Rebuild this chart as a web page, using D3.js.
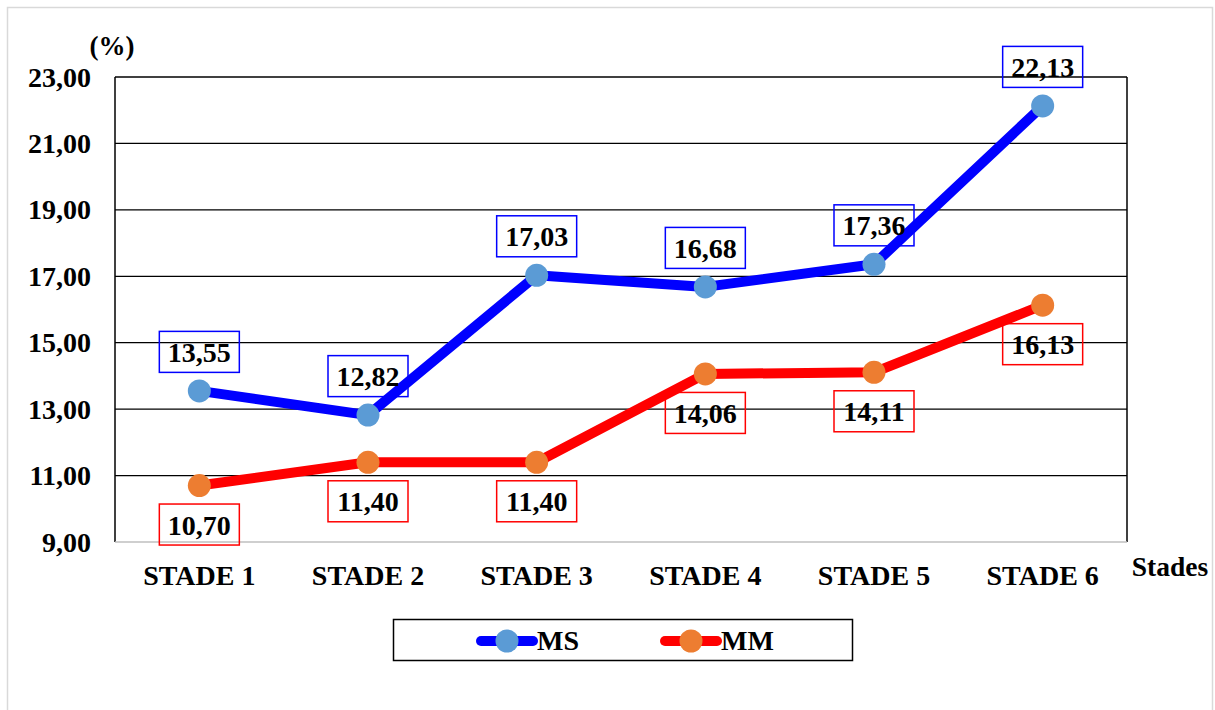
<!DOCTYPE html>
<html>
<head>
<meta charset="utf-8">
<script src="https://cdn.jsdelivr.net/npm/d3@7"></script>
<style>
  html, body { margin: 0; padding: 0; background: #fff; }
  svg { display: block; }
</style>
</head>
<body>
<svg id="chart" width="1215" height="710"></svg>
<script>
const categories = ["STADE 1", "STADE 2", "STADE 3", "STADE 4", "STADE 5", "STADE 6"];
const msValues = [13.55, 12.82, 17.03, 16.68, 17.36, 22.13];
const mmValues = [10.70, 11.40, 11.40, 14.06, 14.11, 16.13];
const yTicks = [9, 11, 13, 15, 17, 19, 21, 23];
const seriesNames = ["MS", "MM"];

const series = [
  { name: seriesNames[0], values: msValues, line: "#0000ff", marker: "#5b9bd5", box: "#0000ff", above: true },
  { name: seriesNames[1], values: mmValues, line: "#ff0000", marker: "#ed7d31", box: "#ff0000", above: false }
];

const svg = d3.select("#chart")
  .attr("font-family", "'Liberation Serif', 'Times New Roman', Times, 'DejaVu Serif', serif")
  .attr("font-weight", "bold");
const L = 115, R = 1127, T = 77, B = 542;
const fmt = v => v.toFixed(2).replace(".", ",");

// outer frame
svg.append("rect").attr("x", 7.5).attr("y", 7.5).attr("width", 1205).attr("height", 730)
  .attr("fill", "none").attr("stroke", "#d9d9d9").attr("stroke-width", 1.5);

const x = d3.scaleBand().domain(categories).range([L, R]).padding(0);
const y = d3.scaleLinear().domain([9, 23]).range([B, T]);
const cx = c => x(c) + x.bandwidth() / 2;

// gridlines
svg.append("g").selectAll("line").data(yTicks.filter(t => t > 9)).join("line")
  .attr("x1", L).attr("x2", R).attr("y1", d => y(d)).attr("y2", d => y(d))
  .attr("stroke", "#000").attr("stroke-width", 1.3);

// plot borders
svg.append("line").attr("x1", L).attr("x2", L).attr("y1", T).attr("y2", B).attr("stroke", "#000").attr("stroke-width", 1.5);
svg.append("line").attr("x1", R).attr("x2", R).attr("y1", T).attr("y2", B).attr("stroke", "#000").attr("stroke-width", 1.5);
svg.append("line").attr("x1", L).attr("x2", R).attr("y1", B).attr("y2", B).attr("stroke", "#bfbfbf").attr("stroke-width", 1.5);

// y tick labels
svg.append("g").selectAll("text").data(yTicks).join("text")
  .attr("x", 91).attr("y", d => y(d) + 9.5).attr("text-anchor", "end")
  .attr("font-size", 28).text(d => fmt(d));

// x labels
svg.append("g").selectAll("text").data(categories).join("text")
  .attr("x", d => cx(d)).attr("y", 585).attr("text-anchor", "middle")
  .attr("font-size", 28).text(d => d);

svg.append("text").attr("x", 112).attr("y", 55).attr("text-anchor", "middle").attr("font-size", 27).text("(%)");
svg.append("text").attr("x", 1170).attr("y", 576).attr("text-anchor", "middle").attr("font-size", 27.5).text("Stades");

const line = d3.line().x((d, i) => cx(categories[i])).y(d => y(d));

series.forEach(s => {
  svg.append("path").datum(s.values).attr("d", line)
    .attr("fill", "none").attr("stroke", s.line).attr("stroke-width", 10)
    .attr("stroke-linejoin", "round").attr("stroke-linecap", "round");
  svg.append("g").selectAll("circle").data(s.values).join("circle")
    .attr("cx", (d, i) => cx(categories[i])).attr("cy", d => y(d)).attr("r", 11.5)
    .attr("fill", s.marker);
});

series.forEach(s => {
  const g = svg.append("g");
  s.values.forEach((v, i) => {
    const px = cx(categories[i]);
    const cy = y(v) + (s.above ? -39 : 39);
    g.append("rect").attr("x", px - 40).attr("y", cy - 20.5).attr("width", 80).attr("height", 41)
      .attr("fill", "none").attr("stroke", s.box).attr("stroke-width", 1.5);
    g.append("text").attr("x", px).attr("y", cy + 10).attr("text-anchor", "middle")
      .attr("font-size", 28).text(fmt(v));
  });
});

// legend
svg.append("rect").attr("x", 393.5).attr("y", 619.5).attr("width", 459).attr("height", 41)
  .attr("fill", "#fff").attr("stroke", "#000").attr("stroke-width", 1.5);
const legX = [477, 661];
series.forEach((s, i) => {
  const lx = legX[i];
  svg.append("line").attr("x1", lx + 4).attr("x2", lx + 56).attr("y1", 641).attr("y2", 641)
    .attr("stroke", s.line).attr("stroke-width", 10).attr("stroke-linecap", "round");
  svg.append("circle").attr("cx", lx + 30).attr("cy", 641).attr("r", 11.5).attr("fill", s.marker);
  svg.append("text").attr("x", lx + 60).attr("y", 650).attr("font-size", 28).text(s.name);
});
</script>
</body>
</html>
